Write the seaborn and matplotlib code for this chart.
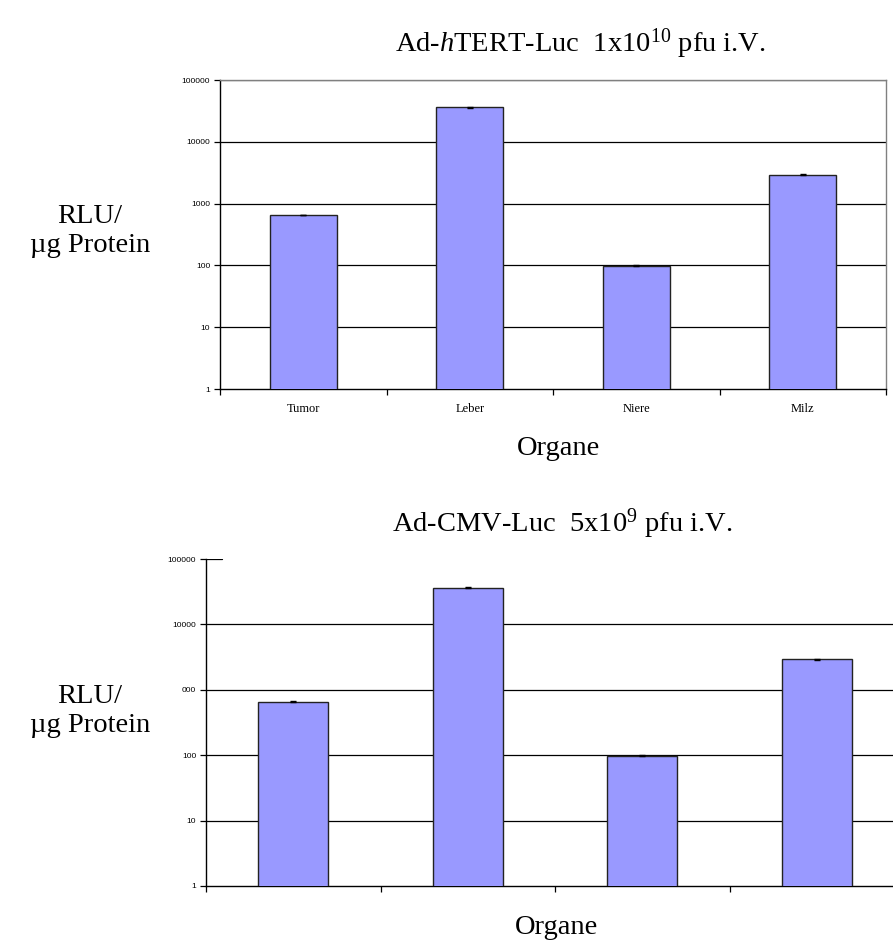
import matplotlib
matplotlib.use("Agg")
import matplotlib.pyplot as plt
import seaborn as sns
import pandas as pd

# values (RLU / ug protein, log scale)
organs = ["Tumor", "Leber", "Niere", "Milz"]
rlu_htert = [655, 36100, 99, 2940]
err_htert = [6, 350, 1, 25]
rlu_cmv = [657, 36600, 98, 2930]
err_cmv = [6, 350, 1, 25]

yticks = [1, 10, 100, 1000, 10000, 100000]
ytick_labels_top = ["1", "10", "100", "1000", "10000", "100000"]
ytick_labels_bottom = ["1", "10", "100", "000", "10000", "100000"]

sns.set_theme(style="white")
plt.rcParams["font.family"] = ["Liberation Serif", "DejaVu Serif"]
plt.rcParams["mathtext.fontset"] = "custom"
plt.rcParams["mathtext.rm"] = "Liberation Serif"
plt.rcParams["mathtext.it"] = "Liberation Serif:italic"
plt.rcParams["text.color"] = "black"
plt.rcParams["xtick.labelcolor"] = "black"
plt.rcParams["ytick.labelcolor"] = "black"

BAR = "#9999FF"
W, H = 893, 940
fig = plt.figure(figsize=(W / 100, H / 100), dpi=100)


def frac(left, top, right, bottom):
    return [left / W, 1 - bottom / H, (right - left) / W, (bottom - top) / H]


def draw(ax, values, errs, labels, show_cats):
    df = pd.DataFrame({"Organ": organs, "RLU": values})
    ax.set_yscale("log")
    sns.barplot(data=df, x="Organ", y="RLU", color=BAR, width=0.4,
                edgecolor="#222222", linewidth=1.0, saturation=1,
                errorbar=None, ax=ax, zorder=3)
    ax.errorbar(range(len(organs)), values, yerr=errs, fmt="none",
                ecolor="black", elinewidth=0.8, capsize=2, zorder=4)
    ax.set_ylim(1, 100000)
    ax.set_xlim(-0.5, len(organs) - 0.5)
    ax.set_yticks(yticks)
    ax.set_yticklabels(labels, family=["Liberation Sans"], fontsize=6)
    ax.yaxis.set_minor_locator(matplotlib.ticker.NullLocator())
    for y in yticks[1:-1]:
        ax.axhline(y, color="black", lw=0.9, zorder=1)
    ax.set_xticks(range(len(organs)))
    if show_cats:
        ax.set_xticklabels(organs, fontsize=9)
    else:
        ax.set_xticklabels([])
    ax.set_xticks([i - 0.5 for i in range(len(organs) + 1)], minor=True)
    ax.tick_params(axis="x", which="major", length=0, pad=10)
    ax.tick_params(axis="x", which="minor", length=4, width=0.9,
                   color="black", direction="out", bottom=True)
    ax.tick_params(axis="y", length=4, width=0.9, color="black",
                   direction="out", left=True, pad=3)
    ax.set_xlabel("")
    ax.set_ylabel("")
    for s in ("left", "bottom"):
        ax.spines[s].set_color("black")
        ax.spines[s].set_linewidth(1.0)


# top chart: Ad-hTERT-Luc
ax1 = fig.add_axes(frac(220, 80, 886, 389))
draw(ax1, rlu_htert, err_htert, ytick_labels_top, True)
ax1.axhline(100000, color="#808080", lw=1.0, zorder=1)
for s in ("top", "right"):
    ax1.spines[s].set_color("#808080")
    ax1.spines[s].set_linewidth(1.0)

# bottom chart: Ad-CMV-Luc
ax2 = fig.add_axes(frac(206, 559, 904, 886))
draw(ax2, rlu_cmv, err_cmv, ytick_labels_bottom, False)
ax2.spines["top"].set_visible(False)
ax2.spines["right"].set_visible(False)
ax2.axhline(100000, xmin=0, xmax=16 / 698, color="black", lw=0.9)

tkw = dict(ha="center", va="baseline", fontsize=20.5, color="black")
fig.text(580 / W, 1 - 52 / H, r"Ad-$\it{h}$TERT-Luc  1x10$^{10}$ pfu i.V.", **tkw)
fig.text(562 / W, 1 - 532 / H, r"Ad-CMV-Luc  5x10$^{9}$ pfu i.V.", **tkw)
fig.text(90 / W, 1 - 252 / H, "RLU/\nµg Protein", ha="center", va="baseline",
         multialignment="center", fontsize=20.5, linespacing=1.2)
fig.text(90 / W, 1 - 732 / H, "RLU/\nµg Protein", ha="center", va="baseline",
         multialignment="center", fontsize=20.5, linespacing=1.2)
fig.text(558 / W, 1 - 455 / H, "Organe", **tkw)
fig.text(556 / W, 1 - 934 / H, "Organe", **tkw)

fig.savefig("out.png", dpi=100, facecolor="white")
